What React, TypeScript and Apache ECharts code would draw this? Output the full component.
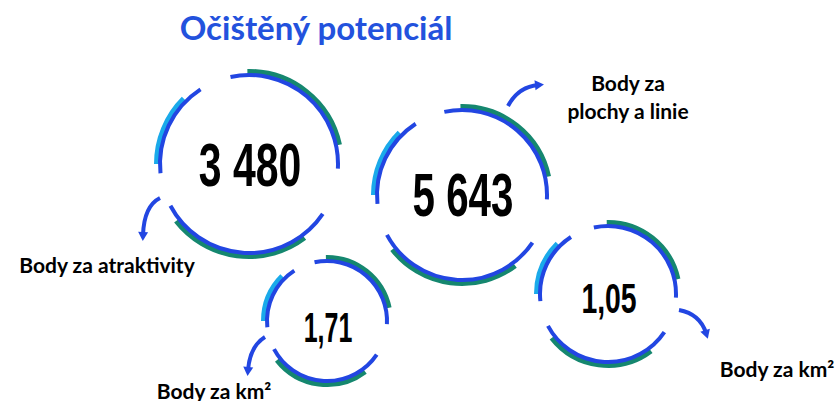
import React, { useEffect, useRef } from "react";
import * as echarts from "echarts";

const title = "Očištěný potenciál";
const values = [3480, 5643, 1.71, 1.05];
const decimals = [0, 0, 2, 2];
const labels = ["Body za atraktivity", "Body za\nplochy a linie", "Body za km²", "Body za km²"];

const BLUE = "#2246E2";
const GREEN = "#15876F";
const CYAN = "#1AAAEA";

const layout = [
  { cx: 249, cy: 164, r: 89, fs: 62, sx: 0.66, ty: 164, lx: 107, ly: 264,
    arrow: { x1: 160, y1: 198, cx: 144, cy: 206, x2: 143, y2: 235 } },
  { cx: 462, cy: 195, r: 85, fs: 62, sx: 0.65, ty: 195, lx: 628, ly: 96,
    arrow: { x1: 508, y1: 106, cx: 518, cy: 87, x2: 538, y2: 85 } },
  { cx: 327, cy: 321, r: 60, fs: 43, sx: 0.58, ty: 327, lx: 214, ly: 390,
    arrow: { x1: 265, y1: 337, cx: 250, cy: 346, x2: 248, y2: 370 } },
  { cx: 608, cy: 294, r: 68, fs: 43, sx: 0.66, ty: 298, lx: 777, ly: 368,
    arrow: { x1: 679, y1: 310, cx: 700, cy: 314, x2: 706, y2: 333 } },
];

// arcs in math degrees (y up), drawn clockwise from a to b (a > b)
const arcs = [
  { a: 91, b: 12, dr: 3.5, color: GREEN, w: 5 },
  { a: 180, b: 135, dr: 3.5, color: CYAN, w: 5 },
  { a: -53, b: -142, dr: 3.5, color: GREEN, w: 5 },
  { a: 102, b: -3, dr: 0, color: BLUE, w: 4 },
  { a: 186, b: 123, dr: 0, color: BLUE, w: 4 },
  { a: -34, b: -152, dr: 0, color: BLUE, w: 4 },
];

function fmt(v: number, d: number): string {
  const s = v.toFixed(d);
  const [ip, dp] = s.split(".");
  const ints = ip.replace(/\B(?=(\d{3})+(?!\d))/g, " ");
  return dp ? ints + "," + dp : ints;
}

export default function App() {
  const ref = useRef<HTMLDivElement>(null);
  useEffect(() => {
    document.body.style.margin = "0";
    const chart = echarts.init(ref.current!, null, { renderer: "svg" });
    const g: any[] = [];
    g.push({
      type: "text", x: 316, y: 27,
      style: { text: title, font: "bold 33px Lato", fill: "#2352DD", align: "center", verticalAlign: "middle" },
    });
    values.forEach((v, i) => {
      const L = layout[i];
      arcs.forEach((a) => {
        g.push({
          type: "arc",
          shape: { cx: L.cx, cy: L.cy, r: L.r + a.dr, startAngle: (-a.a * Math.PI) / 180, endAngle: (-a.b * Math.PI) / 180, clockwise: true },
          style: { stroke: a.color, lineWidth: a.w, fill: "none", lineCap: "butt" },
        });
      });
      g.push({
        type: "text", x: L.cx + 1, y: L.ty, scaleX: L.sx,
        style: { text: fmt(v, decimals[i]), font: `bold ${L.fs}px "Liberation Sans"`, fill: "#000", align: "center", verticalAlign: "middle" },
      });
      const A = L.arrow;
      g.push({
        type: "bezierCurve",
        shape: { x1: A.x1, y1: A.y1, x2: A.x2, y2: A.y2, cpx1: A.cx, cpy1: A.cy },
        style: { stroke: BLUE, lineWidth: 4, fill: "none" },
      });
      let dx = A.x2 - A.cx, dy = A.y2 - A.cy;
      const len = Math.hypot(dx, dy);
      dx /= len; dy /= len;
      const px = -dy, py = dx;
      g.push({
        type: "polygon",
        shape: { points: [
          [A.x2 + dx * 6, A.y2 + dy * 6],
          [A.x2 - dx * 3 + px * 5, A.y2 - dy * 3 + py * 5],
          [A.x2 - dx * 3 - px * 5, A.y2 - dy * 3 - py * 5],
        ] },
        style: { fill: BLUE },
      });
      g.push({
        type: "text", x: L.lx, y: L.ly,
        style: { text: labels[i], font: "bold 21px Lato", fill: "#000", align: "center", verticalAlign: "middle", lineHeight: 28 },
      });
    });
    chart.setOption({ animation: false, graphic: g });
    return () => chart.dispose();
  }, []);
  return <div ref={ref} style={{ width: 840, height: 401 }} />;
}
